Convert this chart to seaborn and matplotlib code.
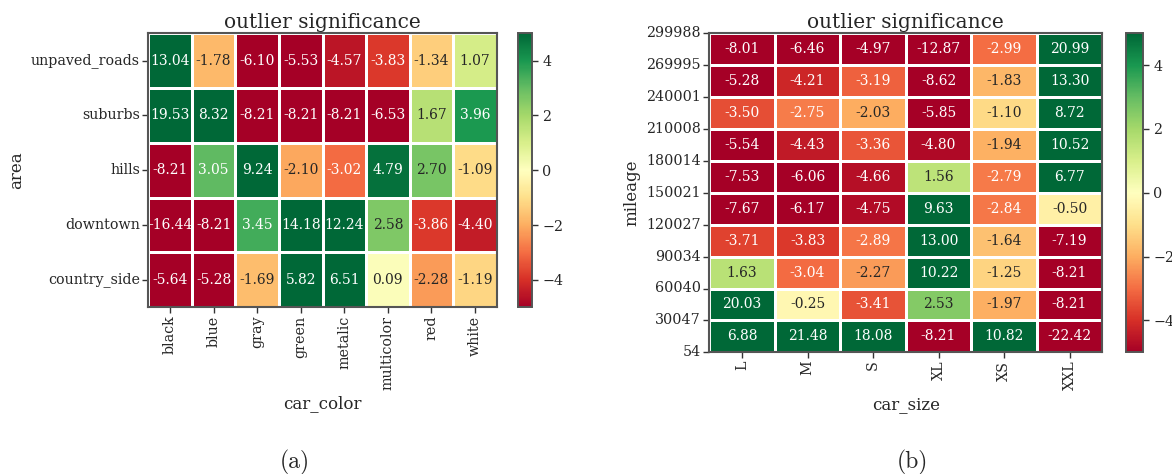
import numpy as np
import pandas as pd
import matplotlib
matplotlib.use("Agg")
import matplotlib.pyplot as plt
import seaborn as sns

sns.set_style("white")
plt.rcParams['font.family'] = ['DejaVu Serif']

# ---- data (a) ----
areas = ["unpaved_roads", "suburbs", "hills", "downtown", "country_side"]
colors = ["black", "blue", "gray", "green", "metalic", "multicolor", "red", "white"]
unpaved_roads = [13.04, -1.78, -6.10, -5.53, -4.57, -3.83, -1.34, 1.07]
suburbs = [19.53, 8.32, -8.21, -8.21, -8.21, -6.53, 1.67, 3.96]
hills = [-8.21, 3.05, 9.24, -2.10, -3.02, 4.79, 2.70, -1.09]
downtown = [-16.44, -8.21, 3.45, 14.18, 12.24, 2.58, -3.86, -4.40]
country_side = [-5.64, -5.28, -1.69, 5.82, 6.51, 0.09, -2.28, -1.19]

# ---- data (b) ----
sizes = ["L", "M", "S", "XL", "XS", "XXL"]
mileage_edges = ["299988", "269995", "240001", "210008", "180014", "150021",
                 "120027", "90034", "60040", "30047", "54"]
m_row0 = [-8.01, -6.46, -4.97, -12.87, -2.99, 20.99]
m_row1 = [-5.28, -4.21, -3.19, -8.62, -1.83, 13.30]
m_row2 = [-3.50, -2.75, -2.03, -5.85, -1.10, 8.72]
m_row3 = [-5.54, -4.43, -3.36, -4.80, -1.94, 10.52]
m_row4 = [-7.53, -6.06, -4.66, 1.56, -2.79, 6.77]
m_row5 = [-7.67, -6.17, -4.75, 9.63, -2.84, -0.50]
m_row6 = [-3.71, -3.83, -2.89, 13.00, -1.64, -7.19]
m_row7 = [1.63, -3.04, -2.27, 10.22, -1.25, -8.21]
m_row8 = [20.03, -0.25, -3.41, 2.53, -1.97, -8.21]
m_row9 = [6.88, 21.48, 18.08, -8.21, 10.82, -22.42]

df_a = pd.DataFrame([unpaved_roads, suburbs, hills, downtown, country_side],
                    index=areas, columns=colors)
df_b = pd.DataFrame([m_row0, m_row1, m_row2, m_row3, m_row4, m_row5,
                     m_row6, m_row7, m_row8, m_row9], columns=sizes)

W, H = 1172, 474
fig = plt.figure(figsize=(W / 100, H / 100), dpi=100)

def box(x0, y0, x1, y1):
    return [x0 / W, 1 - y1 / H, (x1 - x0) / W, (y1 - y0) / H]

ax1 = fig.add_axes(box(148.3, 33.3, 496.7, 307.3))
cax1 = fig.add_axes(box(517.7, 33.3, 531.7, 307.3))
ax2 = fig.add_axes(box(709.3, 33.3, 1102.3, 352.3))
cax2 = fig.add_axes(box(1126, 33.3, 1142.7, 352.3))

TICK = 10.3
annot_kws = {"fontsize": 10}
sns.heatmap(df_a, ax=ax1, cbar_ax=cax1, cmap="RdYlGn", vmin=-5, vmax=5,
            annot=True, fmt=".2f", annot_kws=annot_kws,
            linewidths=0.8, linecolor="white")
sns.heatmap(df_b, ax=ax2, cbar_ax=cax2, cmap="RdYlGn", vmin=-5, vmax=5,
            annot=True, fmt=".2f", annot_kws=annot_kws,
            linewidths=0.8, linecolor="white")

for ax in (ax1, ax2):
    for t in ax.texts:
        t.set_text(t.get_text().replace("\u2212", "-"))

ax1.set_title("outlier significance", fontsize=14.5, pad=4)
ax2.set_title("outlier significance", fontsize=14.5, pad=4)
ax1.set_xlabel("car_color", fontsize=12)
ax1.set_ylabel("area", fontsize=12)
ax2.set_xlabel("car_size", fontsize=12)
ax2.set_ylabel("mileage", fontsize=12)

ax1.set_yticklabels(areas, rotation=0, fontsize=TICK)
ax1.set_xticklabels(colors, rotation=90, fontsize=TICK)
ax2.set_xticklabels(sizes, rotation=90, fontsize=TICK)
ax2.set_yticks(np.arange(len(mileage_edges)))
ax2.set_yticklabels(mileage_edges, rotation=0, fontsize=TICK)

for ax in (ax1, ax2):
    ax.tick_params(axis="both", which="both", length=4, width=1,
                   color="#333333", left=True, bottom=True, pad=2)
    for sp in ax.spines.values():
        sp.set_visible(True)
        sp.set_color("#555555")
        sp.set_linewidth(1.5)

for cax in (cax1, cax2):
    cax.set_yticks([-4, -2, 0, 2, 4])
    cax.tick_params(labelsize=TICK, length=4, width=1, color="#333333", right=True)
    cax.yaxis.set_ticks_position("right")
    for sp in cax.spines.values():
        sp.set_visible(True)
        sp.set_color("#555555")
        sp.set_linewidth(1.2)

fig.text(295 / W, 1 - 462 / H, "(a)", ha="center", va="center", fontsize=17,
         family=["cmr10", "DejaVu Serif"])
fig.text(912 / W, 1 - 462 / H, "(b)", ha="center", va="center", fontsize=17,
         family=["cmr10", "DejaVu Serif"])

fig.savefig("out.png", dpi=100)
